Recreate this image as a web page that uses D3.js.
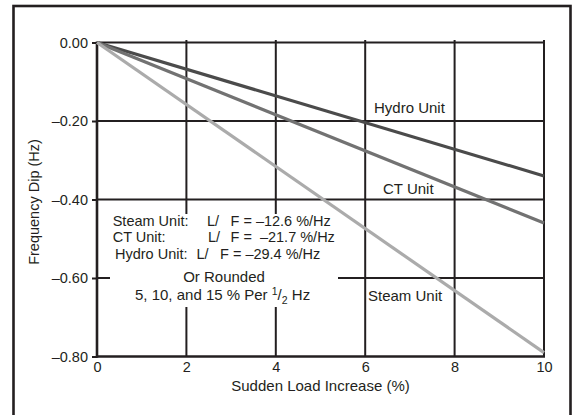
<!DOCTYPE html>
<html>
<head>
<meta charset="utf-8">
<script src="https://cdn.jsdelivr.net/npm/d3@7"></script>
<style>
  html, body { margin: 0; padding: 0; background: #fff; }
  svg { display: block; }
  text { font-family: "Liberation Sans", Arial, Helvetica, sans-serif; fill: #231f20; }
</style>
</head>
<body>
<svg id="chart" width="572" height="415"></svg>
<script>
// ---- data ----
const loadIncrease = [0, 10];                 // Sudden load increase (%)
const hydroDip = [0.00, -0.34];               // Frequency dip (Hz)
const ctDip = [0.00, -0.46];
const steamDip = [0.00, -0.79];
const seriesNames = ["Hydro Unit", "CT Unit", "Steam Unit"];
const xTicks = [0, 2, 4, 6, 8, 10];
const yTicks = [0.00, -0.20, -0.40, -0.60, -0.80];
const unitNames = ["Steam Unit:", "CT Unit:", "Hydro Unit:"];
const ratios = [-12.6, -21.7, -29.4];         // ΔL/ΔF (%/Hz)
const xTitle = "Sudden Load Increase (%)";
const yTitle = "Frequency Dip (Hz)";

const INK = "#231f20";
const svg = d3.select("#chart");

const x = d3.scaleLinear().domain([0, 10]).range([97, 544]);
const y = d3.scaleLinear().domain([-0.8, 0]).range([356.5, 42.5]);

// outer frame (open at bottom – cropped)
svg.append("rect").attr("x", 13.5).attr("y", 6).attr("width", 557).attr("height", 430)
  .attr("fill", "none").attr("stroke", INK).attr("stroke-width", 2.6);

// grid
const grid = svg.append("g");
grid.selectAll("line.v").data(xTicks.slice(1)).join("line")
  .attr("x1", d => x(d)).attr("x2", d => x(d))
  .attr("y1", y(0) - 2.5).attr("y2", y(-0.8))
  .attr("stroke", INK).attr("stroke-width", 2);
grid.selectAll("line.h").data(yTicks.slice(0, 4)).join("line")
  .attr("x1", x(0)).attr("x2", x(10))
  .attr("y1", d => y(d)).attr("y2", d => y(d))
  .attr("stroke", INK).attr("stroke-width", 2);

// white box behind the annotation
svg.append("rect").attr("x", 110).attr("y", 214).attr("width", 228).attr("height", 93)
  .attr("fill", "#fff");

// axes
const fmt = d => (d < 0 ? "\u2013" : "") + Math.abs(d).toFixed(2);
const yAxis = svg.append("g").attr("transform", `translate(${x(0)},0)`)
  .call(d3.axisLeft(y).tickValues(yTicks).tickSize(5).tickPadding(4).tickFormat(fmt));
const xAxis = svg.append("g").attr("transform", `translate(0,${y(-0.8)})`)
  .call(d3.axisBottom(x).tickValues(xTicks).tickSize(0).tickPadding(5).tickFormat(d3.format("d")));
[yAxis, xAxis].forEach(a => {
  a.select(".domain").remove();
  a.selectAll("line").attr("stroke", INK).attr("stroke-width", 2);
  a.selectAll("text").attr("font-size", 14.5).attr("fill", INK)
    .attr("font-family", "'Liberation Sans', Arial, sans-serif");
});
svg.append("line").attr("x1", x(0)).attr("x2", x(0)).attr("y1", y(0) - 1).attr("y2", y(-0.8) + 1.2)
  .attr("stroke", INK).attr("stroke-width", 2.6);
svg.append("line").attr("x1", x(0) - 1).attr("x2", x(10) + 1).attr("y1", y(-0.8)).attr("y2", y(-0.8))
  .attr("stroke", INK).attr("stroke-width", 2.6);

// series lines
const series = [
  { name: seriesNames[0], values: hydroDip, color: "#4b4b4b" },
  { name: seriesNames[1], values: ctDip, color: "#727272" },
  { name: seriesNames[2], values: steamDip, color: "#ababab" }
];
const line = d3.line().x(d => x(d[0])).y(d => y(d[1]));
svg.append("g").selectAll("path").data(series).join("path")
  .attr("d", s => line(loadIncrease.map((v, i) => [v, s.values[i]])))
  .attr("fill", "none").attr("stroke", s => s.color).attr("stroke-width", 3.2)
  .attr("stroke-linecap", "butt");

// series labels
const labelPos = [[374, 112.5], [383, 194], [368, 301]];
svg.append("g").selectAll("text").data(seriesNames).join("text")
  .attr("x", (d, i) => labelPos[i][0]).attr("y", (d, i) => labelPos[i][1])
  .attr("font-size", 15).text(d => d);

// annotation block (one text element, rows as tspans)
const rowY = [226, 242.3, 258.6];
const nameX = [112.7, 112.7, 115];
const lX = [207, 208, 196.5];
const fX = [230.5, 230.5, 220];
const eqText = ["F = ", "F =  ", "F = "];
const ann = svg.append("text").attr("font-size", 14.5).style("white-space", "pre");
unitNames.forEach((n, i) => {
  ann.append("tspan").attr("x", nameX[i]).attr("y", rowY[i]).text(n);
  ann.append("tspan").attr("x", lX[i]).attr("y", rowY[i]).text("L/");
  ann.append("tspan").attr("x", fX[i]).attr("y", rowY[i])
    .text(eqText[i] + "\u2013" + Math.abs(ratios[i]).toFixed(1) + " %/Hz");
});
ann.append("tspan").attr("x", 224).attr("y", 282.3).attr("text-anchor", "middle").attr("font-size", 15).text("Or Rounded");
ann.append("tspan").attr("x", 135).attr("y", 300).attr("font-size", 15).text("5, 10, and 15 % Per ");
ann.append("tspan").attr("font-size", 10.5).attr("dy", -5.5).text("1");
ann.append("tspan").attr("font-size", 15).attr("dy", 5.5).text("/");
ann.append("tspan").attr("font-size", 10.5).attr("dy", 3.5).text("2");
ann.append("tspan").attr("font-size", 15).attr("dy", -3.5).text(" Hz");

// axis titles
svg.append("text").attr("x", (x(0) + x(10)) / 2).attr("y", 391)
  .attr("text-anchor", "middle").attr("font-size", 15).text(xTitle);
svg.append("text").attr("transform", "translate(39,202) rotate(-90)")
  .attr("text-anchor", "middle").attr("font-size", 14.5).text(yTitle);
</script>
</body>
</html>
